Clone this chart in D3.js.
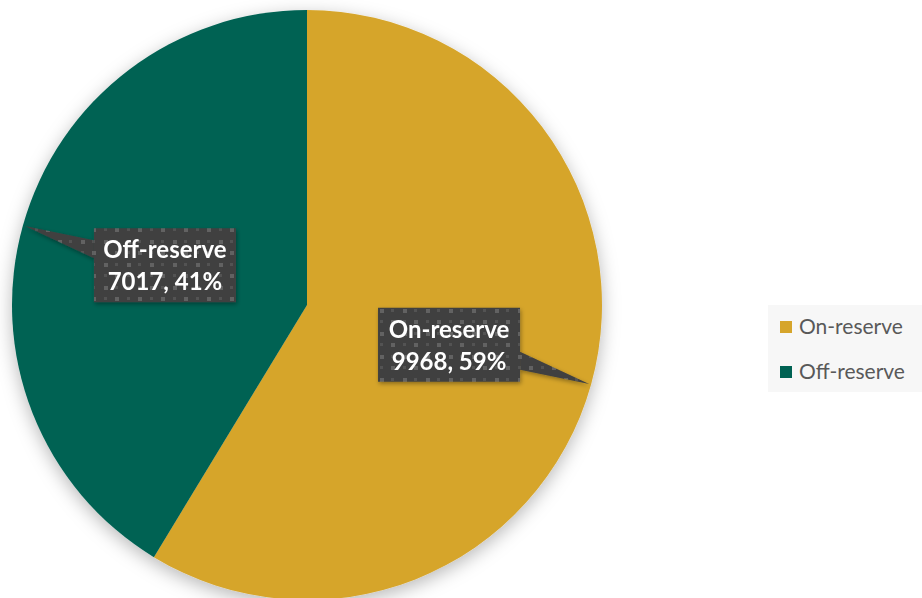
<!DOCTYPE html>
<html>
<head>
<meta charset="utf-8">
<script src="https://cdn.jsdelivr.net/npm/d3@7"></script>
<style>
  body { margin: 0; background: #fff; }
  svg { display: block; }
</style>
</head>
<body>
<div id="chart"></div>
<script>
// data
var categories = ["On-reserve", "Off-reserve"];
var values = [9968, 7017];
var colors = ["#D6A52B", "#006253"];

// chart params
var svgWidth = 922;
var svgHeight = 598;
var cx = 307, cy = 305, radius = 295;

var svg = d3.select("#chart")
    .append("svg")
    .attr("width", svgWidth)
    .attr("height", svgHeight);

var defs = svg.append("defs");

// soft shadow round the pie
var shadow = defs.append("filter")
    .attr("id", "pieShadow")
    .attr("x", "-20%").attr("y", "-20%")
    .attr("width", "140%").attr("height", "140%");
shadow.append("feDropShadow")
    .attr("dx", 0).attr("dy", 5)
    .attr("stdDeviation", 9)
    .attr("flood-color", "#000")
    .attr("flood-opacity", 0.28);

var boxShadow = defs.append("filter")
    .attr("id", "boxShadow")
    .attr("x", "-20%").attr("y", "-20%")
    .attr("width", "140%").attr("height", "140%");
boxShadow.append("feDropShadow")
    .attr("dx", 1).attr("dy", 2)
    .attr("stdDeviation", 2)
    .attr("flood-color", "#000")
    .attr("flood-opacity", 0.35);

// dotted fill for the label boxes
var pat = defs.append("pattern")
    .attr("id", "dots")
    .attr("patternUnits", "userSpaceOnUse")
    .attr("width", 23).attr("height", 23);
pat.append("rect").attr("width", 23).attr("height", 23).attr("fill", "#404040");
pat.append("rect").attr("x", 4).attr("y", 4).attr("width", 4).attr("height", 4).attr("fill", "#626262");
pat.append("rect").attr("x", 15).attr("y", 15).attr("width", 4).attr("height", 4).attr("fill", "#626262");
pat.append("rect").attr("x", 15).attr("y", 4).attr("width", 3).attr("height", 3).attr("fill", "#525252");
pat.append("rect").attr("x", 4).attr("y", 15).attr("width", 3).attr("height", 3).attr("fill", "#525252");

var total = d3.sum(values);
var pieData = categories.map(function(c, i) {
    return { name: c, value: values[i], color: colors[i] };
});

var pie = d3.pie()
    .sort(null)
    .value(d => d.value);

var arc = d3.arc()
    .innerRadius(0)
    .outerRadius(radius);

var arcs = pie(pieData);

var chartGroup = svg.append("g")
    .attr("transform", `translate(${cx}, ${cy})`);

chartGroup.append("g")
    .attr("filter", "url(#pieShadow)")
    .selectAll("path")
    .data(arcs)
    .enter()
    .append("path")
    .attr("d", arc)
    .attr("fill", d => d.data.color);

// callout labels
var boxW = 142, boxH = 74;
var labels = chartGroup.selectAll(".callout")
    .data(arcs)
    .enter()
    .append("g")
    .attr("class", "callout")
    .attr("filter", "url(#boxShadow)");

labels.each(function(d) {
    var g = d3.select(this);
    var c = arc.centroid(d);
    var mid = (d.startAngle + d.endAngle) / 2;
    var tipR = radius - 2;
    var tip = [tipR * Math.sin(mid), -tipR * Math.cos(mid)];
    var x0 = c[0] - boxW / 2, y0 = c[1] - boxH / 2;
    var side = tip[0] < c[0] ? x0 : x0 + boxW;
    var dir = tip[1] < c[1] ? -1 : 1;
    var b1 = c[1] + dir * 7, b2 = c[1] + dir * 25;

    g.append("path")
        .attr("d", `M${side},${b1} L${tip[0]},${tip[1]} L${side},${b2} Z`)
        .attr("fill", "url(#dots)");
    g.append("rect")
        .attr("x", x0)
        .attr("y", y0)
        .attr("width", boxW)
        .attr("height", boxH)
        .attr("fill", "url(#dots)");

    var pct = Math.round(d.data.value / total * 100);
    var t = g.append("text")
        .attr("text-anchor", "middle")
        .attr("font-family", "Lato, 'Open Sans', sans-serif")
        .attr("font-weight", "bold")
        .attr("font-size", "24px")
        .attr("fill", "#fff");
    t.append("tspan")
        .attr("x", c[0])
        .attr("y", c[1] - 7)
        .text(d.data.name);
    t.append("tspan")
        .attr("x", c[0])
        .attr("y", c[1] + 25)
        .text(`${d.data.value}, ${pct}%`);
});

// legend
var legend = svg.append("g")
    .attr("transform", "translate(768, 305)");

legend.append("rect")
    .attr("width", 154)
    .attr("height", 87)
    .attr("fill", "#f7f7f7");

var legendItems = legend.selectAll(".item")
    .data(pieData)
    .enter()
    .append("g")
    .attr("class", "item")
    .attr("transform", (d, i) => `translate(12, ${16 + i * 45})`);

legendItems.append("rect")
    .attr("width", 12)
    .attr("height", 12)
    .attr("fill", d => d.color);

legendItems.append("text")
    .attr("x", 19)
    .attr("y", 13)
    .attr("font-family", "Lato, 'Open Sans', sans-serif")
    .attr("font-size", "21px")
    .attr("fill", "#595959")
    .text(d => d.name);
</script>
</body>
</html>
